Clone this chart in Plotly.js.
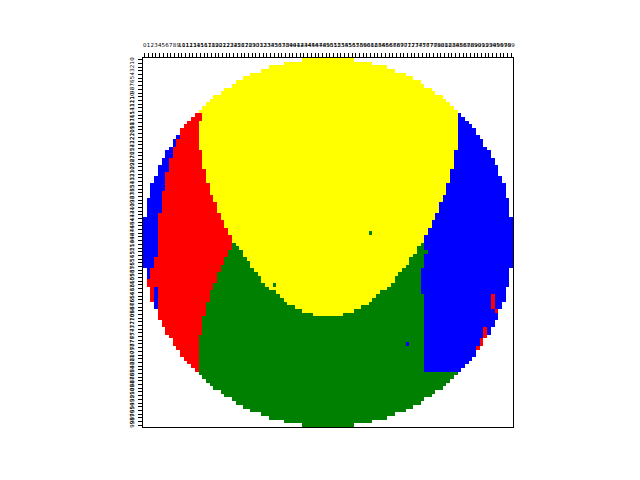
<!DOCTYPE html>
<html>
<head>
<meta charset="utf-8">
<script src="https://cdn.plot.ly/plotly-3.0.1.min.js"></script>
<style>html,body{margin:0;padding:0;background:#fff;}#chart{width:640px;height:480px;}</style>
</head>
<body>
<div id="chart"></div>
<script>
// class codes: W=background, R=red, Y=yellow, G=green, B=blue
const classCodes = ["W", "R", "Y", "G", "B"];
const classColors = ["#ffffff", "#ff0000", "#ffff00", "#008000", "#0000ff"];

// each row: runs "<code><last column inclusive>"
const rowRuns = [
"W42 Y56 W99","W37 Y61 W99","W33 Y65 W99","W31 Y67 W99","W28 Y70 W99",
"W26 Y72 W99","W24 Y74 W99","W23 Y75 W99","W21 Y77 W99","W20 Y78 W99",
"W18 Y80 W99","W17 Y81 W99","W16 Y82 W99","W15 Y83 W99","W14 Y84 W99",
"W13 R15 Y84 B85 W99","W12 R15 Y84 B86 W99","W11 R14 Y84 B87 W99","W10 R14 Y84 B88 W99","W9 R14 Y84 B89 W99",
"W9 R14 Y84 B89 W99","W8 B9 R14 Y84 B90 W99","W7 B8 R14 Y84 B91 W99","W7 B8 R14 Y84 B91 W99","W6 B7 R14 Y84 B92 W99",
"W5 B7 R15 Y83 B93 W99","W5 B7 R15 Y83 B93 W99","W4 B6 R15 Y83 B94 W99","W4 B6 R15 Y83 B94 W99","W3 B6 R15 Y83 B95 W99",
"W3 B6 R16 Y82 B95 W99","W3 B5 R16 Y82 B95 W99","W2 B5 R16 Y82 B96 W99","W2 B5 R16 Y82 B96 W99","W1 B5 R17 Y81 B97 W99",
"W1 B5 R17 Y81 B97 W99","W1 B4 R17 Y81 B97 W99","W1 B4 R18 Y80 B97 W99","W0 B4 R18 Y80 B98 W99","W0 B4 R19 Y79 B98 W99",
"W0 B4 R19 Y79 B98 W99","W0 B4 R19 Y79 B98 W99","W0 B3 R20 Y78 B98 W99","B3 R20 Y78 B99","B3 R21 Y77 B99",
"B3 R21 Y77 B99","B3 R22 Y76 B99","B3 R22 Y60 G61 Y76 B99","B3 R23 Y75 B99","B3 R23 Y75 B99",
"B3 R23 G24 Y74 G75 B99","B3 R23 G25 Y73 G75 B99","B3 R22 G26 Y73 G76 B99","B3 R22 G26 Y72 G75 B99","B2 R21 G27 Y71 G75 B99",
"B2 R21 G28 Y71 G75 B99","B2 R20 G28 Y70 G75 B99","W0 B1 R20 G29 Y69 G74 B98 W99","W0 B1 R19 G30 Y68 G74 B98 W99","W0 B1 R19 G31 Y67 G74 B98 W99",
"W0 R19 G31 Y67 G74 B98 W99","W0 R18 G32 Y34 G35 Y66 G74 B98 W99","W1 R2 B3 R18 G33 Y65 G74 B97 W99","W1 R2 B3 R17 G35 Y63 G74 B97 W99","W1 R2 B3 R17 G36 Y62 G75 B93 R94 B97 W99",
"W1 R2 B3 R17 G37 Y61 G75 B93 R94 B97 W99","W2 B3 R16 G38 Y60 G75 B93 R94 B96 W99","W2 B3 R16 G40 Y58 G75 B93 R94 B96 W99","W3 R16 G42 Y56 G75 B94 R95 W99","W3 R16 G45 Y53 G75 B95 W99",
"W3 R15 G75 B95 W99","W4 R15 G75 B94 W99","W4 R15 G75 B94 W99","W5 R15 G75 B91 R92 B93 W99","W5 R15 G75 B91 R92 B93 W99",
"W6 R14 G75 B91 R92 W99","W7 R14 G75 B90 R91 W99","W7 R14 G70 B71 G75 B90 R91 W99","W8 R14 G75 B89 R90 W99","W9 R14 G75 B89 W99",
"W9 R14 G75 B89 W99","W10 R14 G75 B88 W99","W11 R14 G75 B87 W99","W12 R14 G75 B86 W99","W13 R14 G75 B85 W99",
"W14 G84 W99","W15 G83 W99","W16 G82 W99","W17 G81 W99","W18 G80 W99",
"W20 G78 W99","W21 G77 W99","W23 G75 W99","W24 G74 W99","W26 G72 W99",
"W28 G70 W99","W31 G67 W99","W33 G65 W99","W37 G61 W99","W42 G56 W99"
];

const tickLabels = ["0","1","2","3","4","5","6","7","8","9","10","11","12","13","14","15","16","17","18","19",
"20","21","22","23","24","25","26","27","28","29","30","31","32","33","34","35","36","37","38","39",
"40","41","42","43","44","45","46","47","48","49","50","51","52","53","54","55","56","57","58","59",
"60","61","62","63","64","65","66","67","68","69","70","71","72","73","74","75","76","77","78","79",
"80","81","82","83","84","85","86","87","88","89","90","91","92","93","94","95","96","97","98","99"];

const tickPositions = tickLabels.map(Number);

// expand runs into the matrix
const z = rowRuns.map(function (s) {
  const row = [];
  s.split(/\s+/).forEach(function (tok) {
    const code = classCodes.indexOf(tok[0]);
    const end = parseInt(tok.slice(1), 10);
    while (row.length <= end) row.push(code);
  });
  return row;
});

const n = classColors.length;
const colorscale = [];
classColors.forEach(function (c, i) {
  colorscale.push([i / n, c]);
  colorscale.push([(i + 1) / n, c]);
});

const trace = {
  type: "heatmap",
  z: z,
  x: tickPositions,
  y: tickPositions,
  zmin: -0.5,
  zmax: n - 0.5,
  colorscale: colorscale,
  showscale: false,
  hoverinfo: "skip"
};

const axisFont = {family: "DejaVu Sans, sans-serif", size: 5.5, color: "#000"};

const layout = {
  width: 640,
  height: 480,
  paper_bgcolor: "#ffffff",
  plot_bgcolor: "#ffffff",
  margin: {l: 143, r: 127, t: 58, b: 53, pad: 0},
  showlegend: false,
  xaxis: {
    side: "top",
    range: [-0.5, 99.5],
    tickmode: "array",
    tickvals: tickPositions,
    ticktext: tickLabels,
    tickangle: 0,
    ticks: "outside",
    ticklen: 4,
    tickwidth: 1,
    tickcolor: "#000",
    tickfont: axisFont,
    ticklabelstandoff: 4,
    showline: true,
    mirror: true,
    linecolor: "#000",
    linewidth: 1,
    showgrid: false,
    zeroline: false,
    fixedrange: true
  },
  yaxis: {
    range: [99.5, -0.5],
    tickmode: "array",
    tickvals: tickPositions,
    ticktext: tickLabels,
    tickangle: -90,
    ticks: "outside",
    ticklen: 4,
    tickwidth: 1,
    tickcolor: "#000",
    tickfont: axisFont,
    ticklabelstandoff: 2,
    showline: true,
    mirror: true,
    linecolor: "#000",
    linewidth: 1,
    showgrid: false,
    zeroline: false,
    fixedrange: true
  }
};

Plotly.newPlot("chart", [trace], layout, {staticPlot: true, displayModeBar: false});
</script>
</body>
</html>
